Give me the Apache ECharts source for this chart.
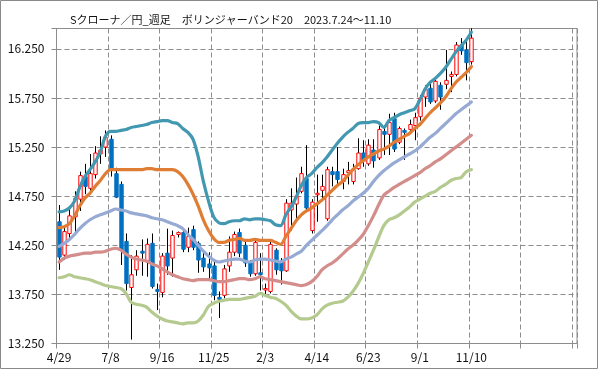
<!DOCTYPE html>
<html>
<head>
<meta charset="utf-8">
<script src="https://cdn.jsdelivr.net/npm/echarts@6/dist/echarts.min.js"></script>
<style>html,body{margin:0;padding:0;background:#fff}#c{width:599px;height:370px}</style>
</head>
<body>
<div id="c"></div>
<script>
const titleText = 'Sクローナ／円_週足　ボリンジャーバンド20　2023.7.24～11.10';

const dates = ['4/29','5/6','5/13','5/20','5/27','6/3','6/10','6/17','6/24','7/1',
  '7/8','7/15','7/22','7/29','8/5','8/12','8/19','8/26','9/2','9/9',
  '9/16','9/23','9/30','10/7','10/14','10/21','10/28','11/4','11/11','11/18',
  '11/25','12/2','12/9','12/16','12/23','12/30','1/6','1/13','1/20','1/27',
  '2/3','2/10','2/17','2/24','3/3','3/10','3/17','3/24','3/31','4/7',
  '4/14','4/21','4/28','5/5','5/12','5/19','5/26','6/2','6/9','6/16',
  '6/23','6/30','7/7','7/14','7/21','7/28','8/4','8/11','8/18','8/25',
  '9/1','9/8','9/15','9/22','9/29','10/6','10/13','10/20','10/27','11/3','11/10'];
const emptySlots = 20;

const opens = [14.49,14.15,14.37,14.54,14.72,14.95,14.83,14.97,15.18,15.25,
  15.33,14.98,14.87,14.29,13.82,14.00,14.19,14.08,14.27,13.80,
  13.77,14.17,14.12,14.36,14.38,14.23,14.41,14.27,14.12,14.06,
  14.04,13.72,13.74,14.04,14.18,14.38,14.25,14.07,13.96,13.97,
  13.80,13.78,14.20,14.09,13.99,14.61,14.67,14.80,14.93,14.40,
  14.77,14.81,14.52,15.00,15.00,14.90,14.99,14.90,15.03,15.19,
  15.08,15.22,15.14,15.41,15.38,15.54,15.30,15.42,15.43,15.47,
  15.56,15.76,15.85,15.72,15.88,15.89,15.97,15.99,16.29,16.24,16.12];
const closes = [14.13,14.39,14.55,14.73,14.96,14.85,14.98,15.19,15.22,15.35,
  15.02,14.74,14.20,13.86,13.95,14.14,14.17,14.26,13.83,13.78,
  14.14,14.04,14.35,14.38,14.21,14.34,14.23,14.10,14.03,14.02,
  13.74,13.70,14.01,14.18,14.36,14.17,14.07,13.96,14.28,13.95,
  13.81,14.26,14.00,13.99,14.68,14.68,14.75,14.98,14.63,14.69,
  14.78,14.85,15.02,14.97,14.92,14.97,15.01,15.02,15.19,15.12,
  15.27,15.11,15.43,15.38,15.50,15.23,15.44,15.40,15.48,15.55,
  15.75,15.84,15.71,15.92,15.76,15.93,15.99,16.29,16.23,16.11,16.36];
const lows = [14.00,14.10,14.32,14.37,14.60,14.77,14.77,14.93,15.08,15.15,
  14.95,14.73,14.05,13.79,13.29,13.94,13.94,13.93,13.81,13.59,
  13.72,13.95,13.93,14.33,14.18,14.18,14.20,13.97,13.98,13.90,
  13.69,13.51,13.71,13.98,14.14,14.13,14.03,13.93,13.94,13.79,
  13.75,13.76,13.95,13.85,13.98,14.40,14.50,14.78,14.61,14.37,
  14.49,14.70,14.50,14.85,14.87,14.82,14.87,14.87,15.02,15.05,
  15.06,15.04,15.12,15.17,15.17,15.20,15.28,15.12,15.40,15.32,
  15.52,15.66,15.69,15.70,15.63,15.84,15.81,15.97,16.19,15.93,16.09];
const highs = [14.66,14.43,14.62,14.80,15.00,15.08,15.18,15.26,15.36,15.42,
  15.37,15.04,14.90,14.37,14.15,14.20,14.31,14.32,14.37,13.86,
  14.17,14.42,14.40,14.39,14.41,14.43,14.45,14.29,14.19,14.18,
  14.08,13.78,14.05,14.34,14.39,14.42,14.29,14.10,14.30,14.17,
  13.86,14.31,14.22,14.12,14.72,14.83,14.94,15.05,15.27,14.72,
  14.97,14.97,15.05,15.05,15.25,15.03,15.10,15.08,15.34,15.32,
  15.33,15.33,15.47,15.47,15.59,15.60,15.46,15.44,15.53,15.60,
  15.78,15.88,15.90,15.95,15.91,16.24,16.02,16.32,16.36,16.33,16.46];

const upper2 = [14.59,14.60,14.63,14.70,14.84,14.95,15.02,15.10,15.20,15.36,
  15.41,15.41,15.42,15.43,15.45,15.46,15.47,15.48,15.50,15.51,
  15.52,15.52,15.50,15.49,15.44,15.40,15.33,15.15,14.90,14.70,
  14.54,14.48,14.47,14.49,14.50,14.50,14.52,14.51,14.52,14.52,
  14.51,14.50,14.46,14.45,14.56,14.64,14.74,14.86,14.94,14.98,
  15.04,15.09,15.15,15.22,15.29,15.35,15.40,15.44,15.49,15.50,
  15.50,15.51,15.50,15.45,15.52,15.55,15.58,15.60,15.62,15.64,
  15.73,15.84,15.91,15.95,16.00,16.06,16.14,16.22,16.28,16.34,16.42];
const upper1 = [14.43,14.44,14.47,14.55,14.65,14.73,14.78,14.85,14.91,14.98,
  15.02,15.02,15.02,15.02,15.02,15.02,15.02,15.03,15.03,15.02,
  15.02,15.02,15.02,15.00,14.95,14.87,14.77,14.65,14.51,14.40,
  14.32,14.28,14.28,14.30,14.31,14.32,14.30,14.30,14.31,14.30,
  14.30,14.30,14.28,14.26,14.34,14.42,14.50,14.56,14.60,14.63,
  14.67,14.71,14.76,14.81,14.86,14.90,14.96,15.02,15.07,15.11,
  15.15,15.18,15.21,15.23,15.26,15.30,15.33,15.36,15.39,15.44,
  15.48,15.54,15.60,15.65,15.70,15.76,15.84,15.91,15.96,16.01,16.07];
const middle = [14.24,14.27,14.31,14.36,14.42,14.47,14.51,14.54,14.56,14.58,
  14.60,14.62,14.61,14.60,14.58,14.57,14.56,14.55,14.53,14.52,
  14.51,14.49,14.47,14.45,14.42,14.36,14.31,14.25,14.19,14.14,
  14.10,14.08,14.09,14.10,14.11,14.11,14.09,14.08,14.10,14.11,
  14.11,14.10,14.09,14.08,14.11,14.13,14.16,14.19,14.25,14.30,
  14.35,14.40,14.45,14.51,14.56,14.61,14.65,14.70,14.74,14.78,
  14.83,14.90,14.96,15.01,15.05,15.09,15.12,15.15,15.18,15.21,
  15.25,15.30,15.35,15.39,15.44,15.49,15.54,15.59,15.63,15.67,15.71];
const lower1 = [14.08,14.12,14.14,14.15,14.16,14.17,14.17,14.18,14.18,14.19,
  14.21,14.22,14.20,14.16,14.13,14.11,14.10,14.09,14.06,14.04,
  14.01,13.98,13.95,13.93,13.91,13.90,13.89,13.90,13.90,13.90,
  13.89,13.88,13.88,13.89,13.90,13.91,13.91,13.90,13.91,13.93,
  13.91,13.90,13.89,13.88,13.87,13.86,13.85,13.84,13.85,13.88,
  13.93,14.00,14.04,14.07,14.11,14.16,14.21,14.25,14.30,14.36,
  14.45,14.55,14.66,14.76,14.80,14.84,14.87,14.90,14.93,14.96,
  14.99,15.03,15.06,15.10,15.13,15.17,15.21,15.25,15.29,15.33,15.37];
const lower2 = [13.92,13.93,13.95,13.93,13.92,13.91,13.90,13.88,13.86,13.84,
  13.83,13.82,13.81,13.76,13.67,13.65,13.64,13.62,13.57,13.53,
  13.50,13.48,13.47,13.46,13.45,13.46,13.46,13.48,13.54,13.63,
  13.66,13.68,13.69,13.70,13.70,13.70,13.71,13.72,13.73,13.76,
  13.74,13.72,13.71,13.68,13.64,13.58,13.53,13.50,13.50,13.51,
  13.54,13.60,13.64,13.66,13.67,13.68,13.72,13.78,13.86,13.96,
  14.08,14.20,14.33,14.45,14.51,14.53,14.56,14.60,14.64,14.69,
  14.72,14.75,14.78,14.80,14.84,14.87,14.91,14.93,14.94,15.00,15.02];

const yMin = 13.25, yMax = 16.458, yStep = 0.5;

const categories = dates.concat(new Array(emptySlots).fill(''));
const candleData = dates.map((d, i) => [i, opens[i], closes[i], lows[i], highs[i]]);

const FONT = '"Noto Sans CJK JP", "Noto Sans", sans-serif';
const GRID_COLOR = '#8c8c8c';

function bandLine(name, data, color) {
  return {
    name: name, type: 'line', data: data, symbol: 'none', smooth: 0.3,
    lineStyle: { color: color, width: 3.2, cap: 'round', join: 'round' },
    z: 3, silent: true
  };
}

const chart = echarts.init(document.getElementById('c'), null, { renderer: 'canvas' });
chart.setOption({
  animation: false,
  backgroundColor: '#ffffff',
  title: {
    text: titleText, left: 65, top: 9,
    textStyle: { fontFamily: FONT, fontSize: 11, fontWeight: 'normal', color: '#111' }
  },
  graphic: [{
    type: 'rect', shape: { x: 0.5, y: 0.5, width: 597, height: 368 },
    style: { fill: 'none', stroke: '#8a8a8a', lineWidth: 1 }, silent: true, z: 100
  }],
  grid: {
    left: 56.5, right: 22, top: 28.5, bottom: 26.5,
    show: true, borderColor: GRID_COLOR, borderWidth: 1, backgroundColor: 'transparent'
  },
  xAxis: {
    type: 'category', data: categories, boundaryGap: true,
    axisLine: { lineStyle: { color: GRID_COLOR, width: 1 } },
    axisTick: { show: true, interval: 9, length: 5, lineStyle: { color: GRID_COLOR } },
    axisLabel: { interval: 9, margin: 8, fontFamily: FONT, fontSize: 12, color: '#111' },
    splitLine: { show: true, interval: 9, lineStyle: { color: GRID_COLOR, type: [5, 3], width: 1 } }
  },
  yAxis: {
    type: 'value', min: yMin, max: yMax, interval: yStep, scale: true,
    axisLine: { show: true, lineStyle: { color: GRID_COLOR, width: 1 } },
    axisTick: { show: true, length: 5, lineStyle: { color: GRID_COLOR } },
    axisLabel: {
      margin: 12, fontFamily: FONT, fontSize: 12, color: '#111',
      formatter: function (v) {
        const k = (v - yMin) / yStep;
        return Math.abs(k - Math.round(k)) < 1e-6 ? v.toFixed(3) : '';
      }
    },
    splitLine: { show: true, lineStyle: { color: GRID_COLOR, type: [5, 3], width: 1 } }
  },
  series: [
    {
      type: 'custom', name: 'candle', data: candleData, z: 2,
      encode: { x: 0, y: [1, 2, 3, 4] },
      renderItem: function (params, api) {
        const idx = api.value(0);
        const o = api.value(1), c = api.value(2), l = api.value(3), h = api.value(4);
        const pO = api.coord([idx, o]);
        const pC = api.coord([idx, c]);
        const pL = api.coord([idx, l]);
        const pH = api.coord([idx, h]);
        const bw = api.size([1, 0])[0] * 0.66;
        const cx = Math.round(pO[0]) + 0.5;
        const up = c >= o;
        const top = Math.min(pO[1], pC[1]);
        const hgt = Math.max(Math.abs(pO[1] - pC[1]), 1.5);
        return {
          type: 'group',
          children: [
            { type: 'line', shape: { x1: cx, y1: pH[1], x2: cx, y2: pL[1] },
              style: { stroke: '#000', lineWidth: 1 } },
            { type: 'rect', shape: { x: cx - bw / 2, y: top, width: bw, height: hgt },
              style: up ? { fill: '#ffffff', stroke: '#ff0000', lineWidth: 1 }
                        : { fill: '#0070c0', stroke: '#0070c0', lineWidth: 1 } }
          ]
        };
      }
    },
    bandLine('-2σ', lower2, '#b4ca8e'),
    bandLine('-1σ', lower1, '#d38e8c'),
    bandLine('MA20', middle, '#96aad3'),
    bandLine('+1σ', upper1, '#e07d35'),
    bandLine('+2σ', upper2, '#4297b1')
  ]
});
</script>
</body>
</html>
